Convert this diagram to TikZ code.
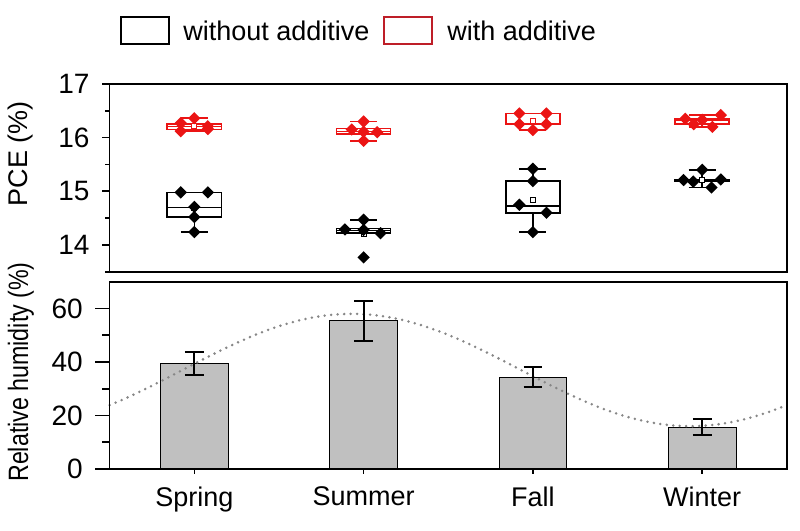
\documentclass[tikz,border=0pt]{standalone}
\usepackage{fontspec}
\setmainfont{Liberation Sans}
\newfontfamily\narrowfont[FakeStretch=0.83]{Liberation Sans}
\usetikzlibrary{shapes.geometric}
\usetikzlibrary{positioning}

\definecolor{pcered}{RGB}{235,20,20}
\definecolor{legred}{RGB}{190,30,40}
\definecolor{barfill}{RGB}{192,192,192}
\definecolor{fitgray}{RGB}{135,135,135}

\tikzset{
	frame/.style={line width=1.6pt},
	dia/.style={diamond,fill,inner sep=0pt,minimum width=13pt,minimum height=13pt},
	meanmark/.style={rectangle,draw,fill=white,line width=0.8pt,inner sep=0pt,minimum size=5pt},
	ticklabel/.style={inner sep=0pt,font=\fontsize{28}{30}\selectfont},
	catlabel/.style={inner sep=0pt,font=\fontsize{27}{30}\selectfont},
	legbox/.style={rectangle,line width=1.2pt,minimum width=48pt,minimum height=27pt,inner sep=0pt},
	legtext/.style={inner sep=0pt,font=\fontsize{27}{30}\selectfont}
}

% #1 season, #2 colour, #3 low whisker, #4 q1, #5 median, #6 q3, #7 high whisker, #8 mean, #9 points dx/v
\newcommand{\pcebox}[9]{%
	\begin{scope}[#2,line width=1.6pt]
		\draw (#1-0.16,#4) rectangle (#1+0.16,#6);
		\draw (#1-0.16,#5) -- (#1+0.16,#5);
		\draw (#1,#4) -- (#1,#3);
		\draw (#1,#6) -- (#1,#7);
		\draw (#1-0.08,#3) -- (#1+0.08,#3);
		\draw (#1-0.08,#7) -- (#1+0.08,#7);
		\node[meanmark] (mean#1#2) at (#1,#8) {};
		\foreach \dx/\v [count=\k] in {#9}
			\node[dia] (pt#1#2\k) at (#1+\dx,\v) {};
	\end{scope}
}

\begin{document}
\begin{tikzpicture}[x=1pt,y=1pt]
	\useasboundingbox (0,0) rectangle (800,530);

	% legend
	\node[legbox,draw=black] (legwithout) at (145,499.5) {};
	\node[legtext,right=13.5pt of legwithout] (txtwithout) {without additive};
	\node[legbox,draw=legred] (legwith) at (408,499.5) {};
	\node[legtext,right=14.5pt of legwith] (txtwith) {with additive};

	% PCE panel
	\begin{scope}[shift={(25,-466.8)},xscale=169.3,yscale=53.7]
		\foreach \v in {14,...,17}
			\coordinate (pce\v) at (0.5,\v);
		\foreach \v in {13,...,16}
			\coordinate (pcem\v) at (0.5,\v+0.5);
		\pcebox{1}{black}{14.24}{14.52}{14.70}{14.98}{14.98}{14.69}{-0.08/14.98,0.08/14.98,0/14.71,0/14.52,0/14.24}
		\pcebox{1}{pcered}{16.12}{16.15}{16.21}{16.25}{16.36}{16.21}{-0.08/16.27,-0.08/16.12,0/16.36,0.08/16.21,0.08/16.16}
		\pcebox{2}{black}{14.22}{14.22}{14.27}{14.31}{14.47}{14.21}{-0.11/14.29,0/14.47,0/14.28,0.1/14.22,0/13.77}
		\pcebox{2}{pcered}{15.94}{16.07}{16.11}{16.17}{16.30}{16.12}{-0.07/16.15,0/16.30,0/16.11,0/15.94,0.08/16.10}
		\pcebox{3}{black}{14.24}{14.60}{14.73}{15.19}{15.42}{14.84}{0/15.42,0/15.19,-0.08/14.75,0.08/14.60,0/14.24}
		\pcebox{3}{pcered}{16.14}{16.25}{16.25}{16.45}{16.45}{16.31}{-0.08/16.45,0.08/16.45,-0.08/16.25,0.08/16.25,0/16.14}
		\pcebox{4}{black}{15.07}{15.18}{15.21}{15.22}{15.40}{15.22}{-0.11/15.21,-0.053/15.18,0/15.40,0.055/15.07,0.11/15.22}
		\pcebox{4}{pcered}{16.20}{16.25}{16.33}{16.35}{16.42}{16.31}{-0.1/16.35,-0.05/16.25,0/16.33,0.06/16.20,0.11/16.42}
		\draw[frame] (0.5,13.5) rectangle (4.5,17);
	\end{scope}
	\foreach \v in {14,...,17}
	{
		\draw[frame] (pce\v) -- ++(-8,0);
		\node[ticklabel,left=20pt of pce\v] (pcelab\v) {\v};
	}
	\foreach \v in {13,...,16}
		\draw[frame] (pcem\v) -- ++(-5,0);
	\node[rotate=90,inner sep=0pt,font=\fontsize{27}{30}\selectfont] (pcetitle) at (20.5,376) {PCE (\%)};

	% humidity panel
	\begin{scope}[shift={(25,61)},xscale=169.3,yscale=2.675]
		\foreach \v in {0,20,40,60}
			\coordinate (rh\v) at (0.5,\v);
		\foreach \v in {0,20,40}
			\coordinate (rhm\v) at (0.5,\v+10);
		\foreach \i in {1,...,4}
			\coordinate (cat\i) at (\i,0);
		\foreach \i/\h in {1/39.5,2/55.4,3/34.4,4/15.6}
			\draw[line width=0.8pt,fill=barfill] (\i-0.2,0) rectangle (\i+0.2,\h);
		\draw[fitgray,line width=2.8pt,line cap=round,dash pattern=on 0pt off 6.5pt]
			plot[domain=0.5:4.5,samples=80,variable=\x] ({\x},{37+21*cos(90*(\x-1.93))});
		\foreach \i/\h/\e in {1/39.5/4.3,2/55.4/7.4,3/34.4/3.7,4/15.6/3.0}
		{
			\draw[line width=2pt] (\i,\h-\e) -- (\i,\h+\e);
			\draw[line width=2pt] (\i-0.055,\h-\e) -- (\i+0.055,\h-\e);
			\draw[line width=2pt] (\i-0.055,\h+\e) -- (\i+0.055,\h+\e);
		}
		\draw[frame] (0.5,0) rectangle (4.5,70);
	\end{scope}
	\foreach \v in {0,20,40,60}
	{
		\draw[frame] (rh\v) -- ++(-15,0);
		\node[ticklabel,left=26.7pt of rh\v] (rhlab\v) {\v};
	}
	\foreach \v in {0,20,40}
		\draw[frame] (rhm\v) -- ++(-8,0);
	\foreach \i/\s in {1/Spring,2/Summer,3/Fall,4/Winter}
	{
		\draw[frame] (cat\i) -- ++(0,-5);
		\node[catlabel,below=17.5pt of cat\i] (catlab\i) {\s};
	}
	\node[rotate=90,inner sep=0pt,font=\narrowfont\fontsize{28}{30}\selectfont] (rhtitle) at (21,158) {Relative humidity (\%)};
\end{tikzpicture}
\end{document}
